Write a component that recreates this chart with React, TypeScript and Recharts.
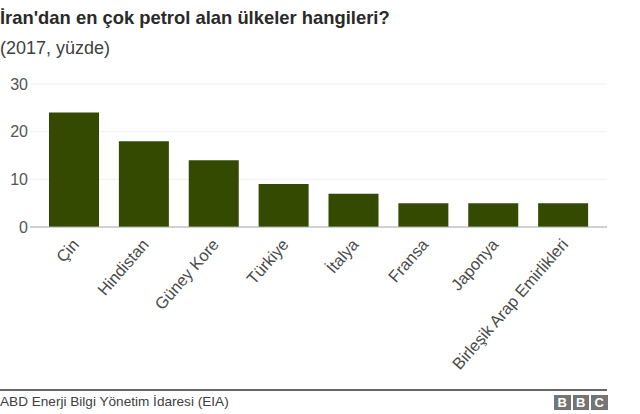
import { BarChart, Bar, CartesianGrid, XAxis, YAxis } from "recharts";

const countries = ["Çin", "Hindistan", "Güney Kore", "Türkiye", "İtalya", "Fransa", "Japonya", "Birleşik Arap Emirlikleri"];
const shares = [24, 18, 14, 9, 7, 5, 5, 5];
const yTicks = [0, 10, 20, 30];

const font = "'Liberation Sans', Arial, sans-serif";

const data = countries.map((name, i) => ({ name, share: shares[i] }));

const AngledTick = ({ x, y, payload }: any) => (
  <text
    x={x + 6}
    y={y + 10}
    textAnchor="end"
    fontSize={16.4}
    fontFamily={font}
    fill="#4a4a4a"
    transform={`rotate(-49 ${x + 6} ${y + 10})`}
  >
    {payload.value}
  </text>
);

const App = () => {
  return (
    <div style={{ position: "fixed", left: 0, top: 0, width: 640, height: 414, background: "#fff", fontFamily: font, overflow: "hidden" }}>
      <div style={{ position: "absolute", left: 0, top: 7, fontSize: 18.4, fontWeight: 700, color: "#2a2a2a", whiteSpace: "nowrap" }}>
        İran'dan en çok petrol alan ülkeler hangileri?
      </div>
      <div style={{ position: "absolute", left: 0, top: 38, fontSize: 18, color: "#404040" }}>(2017, yüzde)</div>

      <div style={{ position: "absolute", left: 0, top: 0 }}>
        <BarChart
          width={640}
          height={390}
          data={data}
          margin={{ top: 84, right: 33, bottom: 0, left: 0 }}
        >
          <CartesianGrid vertical={false} stroke="#f0f0f0" />
          <XAxis
            dataKey="name"
            interval={0}
            height={163}
            padding={{ left: 9, right: 9 }}
            tick={<AngledTick />}
            tickLine={false}
            axisLine={{ stroke: "#aaa" }}
          />
          <YAxis
            width={30}
            domain={[0, 30]}
            ticks={yTicks}
            tick={{ fontSize: 16, fill: "#555", fontFamily: font, dx: 6 }}
            tickLine={false}
            axisLine={false}
          />
          <Bar dataKey="share" fill="#334a00" barSize={50} isAnimationActive={false} />
        </BarChart>
      </div>

      <div style={{ position: "absolute", left: 0, top: 389, width: 607, borderTop: "2px solid #666" }} />
      <div style={{ position: "absolute", left: 0, top: 394, fontSize: 13.6, color: "#404040", whiteSpace: "nowrap" }}>
        ABD Enerji Bilgi Yönetim İdaresi (EIA)
      </div>
      <div style={{ position: "absolute", left: 554, top: 395, display: "flex", gap: 2 }}>
        {["B", "B", "C"].map((letter, i) => (
          <span
            key={i}
            style={{ width: 16.5, height: 15, background: "#757575", color: "#fff", fontSize: 13, fontWeight: 700, lineHeight: "15px", textAlign: "center" }}
          >
            {letter}
          </span>
        ))}
      </div>
    </div>
  );
};

export default App;
